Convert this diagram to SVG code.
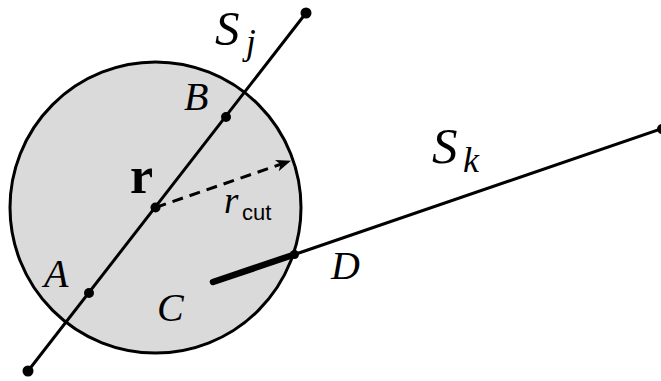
<svg xmlns="http://www.w3.org/2000/svg" width="661" height="381" viewBox="0 0 661 381">
<defs>
<style>
.ln{stroke:#000;stroke-width:3;fill:none;stroke-linecap:round}
.dot{fill:#000}
.it{font-family:"Liberation Serif","Times New Roman",serif;font-style:italic;fill:#000}
.bd{font-family:"Liberation Serif","Times New Roman",serif;font-weight:bold;fill:#000}
.sf{font-family:"Liberation Sans",Arial,sans-serif;fill:#000}
</style>
<marker id="arr" viewBox="0 0 16 14" refX="14" refY="7" markerWidth="16" markerHeight="14" markerUnits="userSpaceOnUse" orient="auto">
<path d="M0,1 L15,7 L0,13 L4,7 Z" fill="#000"/>
</marker>
</defs>
<g id="cutoff-sphere">
<circle cx="155.5" cy="207.5" r="145.5" fill="#dadada" stroke="#000" stroke-width="3"/>
</g>
<g id="connectors">
<line class="ln" x1="28" y1="371" x2="306" y2="13"/>
<line class="ln" x1="294.5" y1="254.5" x2="661" y2="129"/>
<line x1="213" y1="282" x2="294.5" y2="254.5" stroke="#000" stroke-width="6.5" stroke-linecap="round"/>
<line x1="155.5" y1="207.5" x2="290" y2="161" stroke="#000" stroke-width="3" stroke-dasharray="11,7" marker-end="url(#arr)"/>
</g>
<g id="Sj">
<circle class="dot" cx="306" cy="13" r="5.5"/>
<circle class="dot" cx="28" cy="371" r="5.5"/>
<text class="it" x="215" y="45" font-size="49">S</text>
<text class="it" x="246" y="54" font-size="35">j</text>
</g>
<g id="Sk">
<circle class="dot" cx="662" cy="129" r="5"/>
<text class="it" x="432" y="163" font-size="51">S</text>
<text class="it" x="463" y="172" font-size="36">k</text>
</g>
<g id="r">
<circle class="dot" cx="155.5" cy="207.5" r="5"/>
<text class="bd" x="130" y="193" font-size="52">r</text>
</g>
<g id="rcut">
<text class="it" x="224" y="213" font-size="37">r</text>
<text class="sf" x="242" y="220" font-size="22">cut</text>
</g>
<g id="A">
<circle class="dot" cx="89" cy="293" r="5"/>
<text class="it" x="44" y="287" font-size="40">A</text>
</g>
<g id="B">
<circle class="dot" cx="226" cy="117" r="5"/>
<text class="it" x="184" y="110" font-size="40">B</text>
</g>
<g id="C">
<text class="it" x="157" y="321" font-size="40">C</text>
</g>
<g id="D">
<circle class="dot" cx="294.5" cy="254.5" r="4.5"/>
<text class="it" x="331" y="279" font-size="40">D</text>
</g>
</svg>
